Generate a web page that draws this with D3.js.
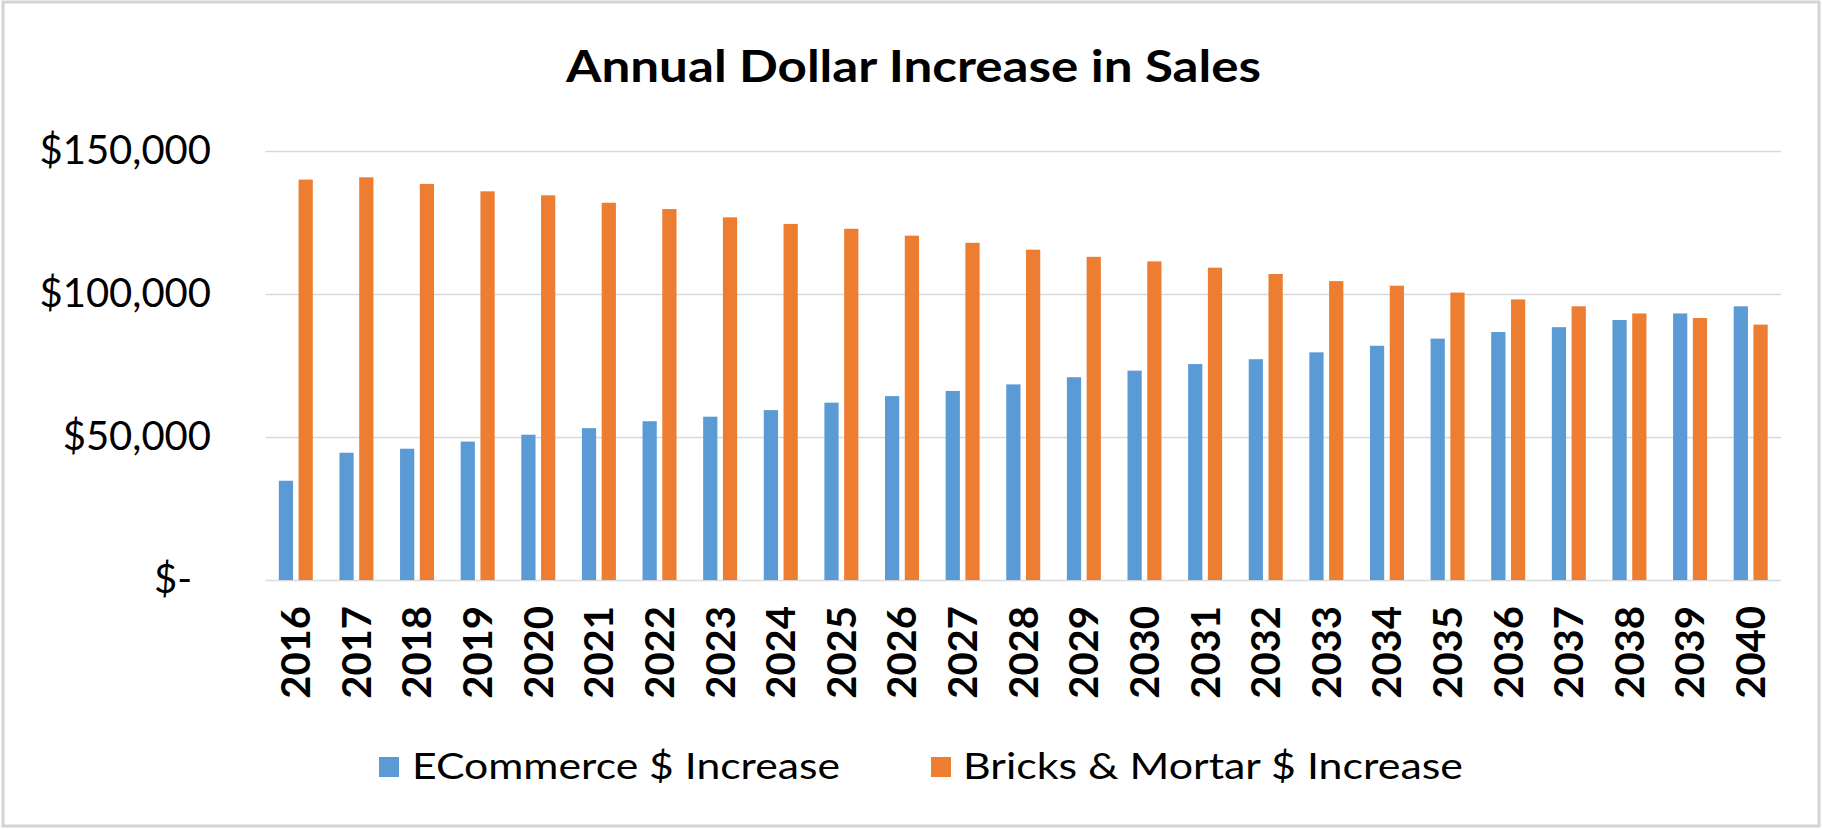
<!DOCTYPE html>
<html>
<head>
<meta charset="utf-8">
<script src="https://cdn.jsdelivr.net/npm/d3@7"></script>
<style>
  html, body { margin: 0; padding: 0; background: #ffffff; }
  svg { display: block; }
  text { font-family: Lato, "Open Sans", sans-serif; fill: #000; }
</style>
</head>
<body>
<svg id="chart" width="1822" height="829"></svg>
<script>
// ---- data ----
const years = ["2016","2017","2018","2019","2020","2021","2022","2023","2024","2025","2026","2027","2028",
               "2029","2030","2031","2032","2033","2034","2035","2036","2037","2038","2039","2040"];
const ecommerce = [34700, 44500, 45900, 48400, 50800, 53100, 55500, 57100, 59400, 62000, 64300, 66100, 68400,
                   70900, 73200, 75500, 77200, 79600, 81900, 84400, 86700, 88400, 90900, 93200, 95700];
const bricksMortar = [140000, 140800, 138500, 135900, 134500, 131900, 129700, 126800, 124500, 122800, 120400, 117900, 115500,
                      113000, 111400, 109200, 107000, 104500, 102900, 100500, 98100, 95700, 93200, 91600, 89300];
const seriesNames = ["ECommerce $ Increase", "Bricks & Mortar $ Increase"];
const seriesColors = ["#5B9BD5", "#ED7D31"];
const yTicks = [0, 50000, 100000, 150000];
const yTickLabels = ["$-", "$50,000", "$100,000", "$150,000"];
const chartTitle = "Annual Dollar Increase in Sales";

// ---- layout ----
const W = 1822, H = 829;
const plot = { left: 265.5, right: 1781, top: 151, bottom: 580 };

const svg = d3.select("#chart");

svg.append("rect")
  .attr("x", 3).attr("y", 2).attr("width", W - 6).attr("height", H - 5)
  .attr("fill", "#ffffff").attr("stroke", "#d4d4d4").attr("stroke-width", 3);

const x = d3.scaleBand().domain(years).range([plot.left, plot.right]).padding(0);
const xInner = d3.scaleBand().domain([0, 1]).range([-17, 17]).paddingInner(0.28);
const y = d3.scaleLinear().domain([0, 150000]).range([plot.bottom, plot.top]);

// title
svg.append("text")
  .attr("x", 566).attr("y", 82)
  .attr("font-size", 44).attr("font-weight", 700)
  .attr("textLength", 695).attr("lengthAdjust", "spacingAndGlyphs")
  .text(chartTitle);

// y axis with gridlines
const yAxis = svg.append("g")
  .attr("transform", `translate(${plot.left},0)`)
  .call(d3.axisLeft(y)
    .tickValues(yTicks)
    .tickSize(-(plot.right - plot.left))
    .tickPadding(54.5)
    .tickFormat((d, i) => yTickLabels[i]));
yAxis.select(".domain").remove();
yAxis.selectAll(".tick line").attr("stroke", "#d9d9d9").attr("stroke-width", 1.6);
yAxis.selectAll(".tick text")
  .attr("font-size", 40).attr("font-family", "Lato, 'Open Sans', sans-serif").attr("fill", "#000")
  .attr("dx", d => d === 0 ? -19 : 0);

// bars
const series = [ecommerce, bricksMortar];
series.forEach((vals, si) => {
  svg.append("g").selectAll("rect")
    .data(years.map((yr, i) => ({ yr, v: vals[i] })))
    .join("rect")
    .attr("x", d => x(d.yr) + x.bandwidth() / 2 + xInner(si))
    .attr("width", xInner.bandwidth())
    .attr("y", d => y(d.v))
    .attr("height", d => y(0) - y(d.v))
    .attr("fill", seriesColors[si]);
});

// x axis labels (rotated)
const xAxis = svg.append("g")
  .attr("transform", `translate(0,${plot.bottom})`)
  .call(d3.axisBottom(x).tickSize(0));
xAxis.select(".domain").remove();
xAxis.selectAll(".tick text")
  .attr("transform", "rotate(-90)")
  .attr("x", -26).attr("y", 0).attr("dy", "0.36em")
  .attr("text-anchor", "end")
  .attr("font-size", 40).attr("font-weight", 700)
  .attr("font-family", "Lato, 'Open Sans', sans-serif").attr("fill", "#000");

// legend
const legendItems = [
  { sq: 379, tx: 412, len: 428 },
  { sq: 931, tx: 963, len: 500 }
];
const legend = svg.append("g");
seriesNames.forEach((name, i) => {
  const it = legendItems[i];
  legend.append("rect")
    .attr("x", it.sq).attr("y", 757).attr("width", 20).attr("height", 20)
    .attr("fill", seriesColors[i]);
  legend.append("text")
    .attr("x", it.tx).attr("y", 779)
    .attr("font-size", 36)
    .attr("textLength", it.len).attr("lengthAdjust", "spacingAndGlyphs")
    .text(name);
});
</script>
</body>
</html>
